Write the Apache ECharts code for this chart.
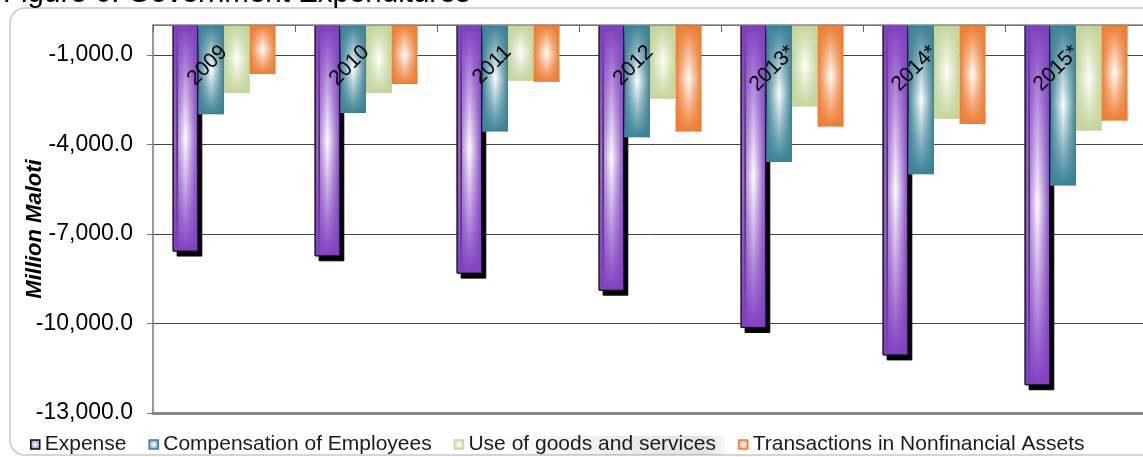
<!DOCTYPE html>
<html>
<head>
<meta charset="utf-8">
<script src="https://cdn.jsdelivr.net/npm/echarts@6/dist/echarts.min.js"></script>
<style>
  html, body { margin: 0; padding: 0; background: #ffffff; }
  #chart { width: 1143px; height: 457px; }
</style>
</head>
<body>
<div id="chart"></div>
<script>
// Government expenditure components, million Maloti (negative = outflow)
const years = ['2009', '2010', '2011', '2012', '2013*', '2014*', '2015*'];
const expense = [-7590, -7750, -8330, -8900, -10150, -11070, -12070];
const compensation = [-2990, -2950, -3570, -3760, -4590, -5000, -5380];
const goodsServices = [-2280, -2280, -1870, -2470, -2730, -3140, -3540];
const nonfinancialAssets = [-1640, -1980, -1900, -3570, -3400, -3320, -3200];
const yTicks = [-13000, -10000, -7000, -4000, -1000];

const FONT = '"Liberation Sans", Arial, sans-serif';

function fmt(v) {
  const s = Math.abs(v).toFixed(1).split('.');
  const intPart = s[0].replace(/\B(?=(\d{3})+(?!\d))/g, ',');
  return (v < 0 ? '-' : '') + intPart + '.' + s[1];
}

// side-to-side shading: colour at the edges, white down the middle
function hGrad(c) {
  return new echarts.graphic.LinearGradient(0, 0, 1, 0, [
    { offset: 0, color: c },
    { offset: 0.5, color: '#ffffff' },
    { offset: 1, color: c }
  ]);
}
// top-to-bottom shading laid over the first one
function vGrad(c) {
  return new echarts.graphic.LinearGradient(0, 0, 0, 1, [
    { offset: 0, color: echarts.color.modifyAlpha(c, 1) },
    { offset: 0.5, color: echarts.color.modifyAlpha(c, 0) },
    { offset: 1, color: echarts.color.modifyAlpha(c, 1) }
  ]);
}
// small legend swatch: coloured rim, pale centre
function swatch(c) {
  return new echarts.graphic.RadialGradient(0.5, 0.5, 0.7, [
    { offset: 0, color: '#ffffff' },
    { offset: 1, color: c }
  ]);
}

const groups = [
  { name: 'Expense', data: expense, color: '#8040C0', border: '#111111', shadow: true },
  { name: 'Compensation of Employees', data: compensation, color: '#3A8296' },
  { name: 'Use of goods and services', data: goodsServices, color: '#C3D69B' },
  { name: 'Transactions in Nonfinancial Assets', data: nonfinancialAssets, color: '#ED7D31' }
];

const BAR_W = 25.7;
const series = [];
groups.forEach(g => {
  const st = { color: hGrad(g.color) };
  if (g.border) { st.borderColor = g.border; st.borderWidth = 1; }
  if (g.shadow) { st.shadowColor = '#000000'; st.shadowOffsetX = 4; st.shadowOffsetY = 5; st.shadowBlur = 0; }
  series.push({
    name: g.name, type: 'bar', xAxisIndex: 0, data: g.data,
    barWidth: BAR_W, barGap: '0%', itemStyle: st
  });
});
groups.forEach(g => {
  const st = { color: vGrad(g.color) };
  if (g.border) { st.borderColor = g.border; st.borderWidth = 1; }
  series.push({
    name: g.name, type: 'bar', xAxisIndex: 1, data: g.data, silent: true,
    barWidth: BAR_W, barGap: '0%', itemStyle: st
  });
});

const chart = echarts.init(document.getElementById('chart'), null, { renderer: 'canvas' });
chart.setOption({
  animation: false,
  backgroundColor: '#ffffff',
  textStyle: { fontFamily: FONT },
  grid: { left: 153, top: 25, width: 994, height: 388, containLabel: false, outerBoundsMode: 'none' },
  legend: {
    data: groups.map(g => ({
      name: g.name,
      itemStyle: {
        color: swatch(g.color),
        borderColor: g.border || g.color,
        borderWidth: 1.5,
        shadowBlur: 0, shadowOffsetX: 0, shadowOffsetY: 0, shadowColor: 'rgba(0,0,0,0)'
      }
    })),
    left: 30, top: 434, padding: 0,
    itemGap: 22, itemWidth: 9, itemHeight: 9, icon: 'rect',
    textStyle: { fontSize: 21, color: '#1a1a1a', fontFamily: FONT }
  },
  xAxis: [
    {
      type: 'category', data: years, position: 'top', z: 10,
      axisLine: { show: true, onZero: false, lineStyle: { color: '#888888', width: 1.5 } },
      axisTick: { show: true, inside: true, length: 7, lineStyle: { color: '#666666' } },
      axisLabel: {
        inside: true, rotate: -45, align: 'right', verticalAlign: 'middle',
        margin: 24, interval: 0, fontSize: 21, color: '#000000', fontFamily: FONT
      },
      splitLine: { show: false }
    },
    {
      type: 'category', data: years, position: 'bottom',
      axisLine: { show: true, onZero: false, lineStyle: { color: '#888888', width: 3 } },
      axisTick: { show: false },
      axisLabel: { show: false },
      splitLine: { show: false }
    }
  ],
  yAxis: {
    type: 'value',
    min: yTicks[0], max: 0, interval: yTicks[1] - yTicks[0],
    name: 'Million Maloti', nameLocation: 'middle', nameGap: 107, nameMoveOverlap: false,
    nameTextStyle: { fontSize: 22, fontWeight: 'bold', fontStyle: 'italic', color: '#000000', fontFamily: FONT, padding: [0, 20, 0, 0] },
    axisLine: { show: true, lineStyle: { color: '#777777', width: 1.5 } },
    axisTick: { show: true, length: 6, lineStyle: { color: '#777777' } },
    axisLabel: { formatter: fmt, fontSize: 23, color: '#000000', margin: 20, showMaxLabel: false, fontFamily: FONT },
    splitLine: { show: true, lineStyle: { color: '#444444', width: 1 } }
  },
  graphic: [
    {
      type: 'rect', silent: true, z: -1,
      shape: { x: 10, y: 8, width: 1160, height: 447, r: 15 },
      style: { fill: 'rgba(0,0,0,0)', stroke: '#c8c8c8', lineWidth: 1.5 }
    },
    {
      type: 'rect', silent: true, z: -1,
      shape: { x: 470, y: 436, width: 255, height: 19 },
      style: {
        fill: new echarts.graphic.LinearGradient(0, 0, 1, 0, [
          { offset: 0, color: 'rgba(0,0,0,0)' },
          { offset: 0.92, color: 'rgba(0,0,0,0.11)' },
          { offset: 1, color: 'rgba(0,0,0,0.03)' }
        ])
      }
    },
    {
      type: 'text', silent: true, x: 3, y: -6,
      style: { text: 'Figure 6: Government Expenditures', font: '29.5px "Liberation Sans", Arial, sans-serif', fill: '#000000', verticalAlign: 'middle' }
    }
  ],
  series: series
});
</script>
</body>
</html>
